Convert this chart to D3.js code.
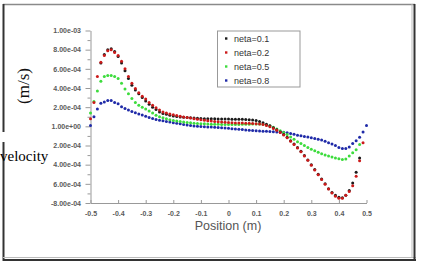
<!DOCTYPE html>
<html>
<head>
<meta charset="utf-8">
<script src="https://cdn.jsdelivr.net/npm/d3@7"></script>
<style>
  body { margin: 0; background: #fff; }
  svg { display: block; }
  .tick text { font-family: "Liberation Sans", Arial, sans-serif; fill: #5a5a5a; font-weight: bold; }
  .domain, .tick line { stroke: #999; }
</style>
</head>
<body>
<svg id="chart" width="421" height="264"></svg>
<script>
// values in units of 1e-4 m/s, sampled every 0.0125 m
var positions = [
	-0.5,-0.4875,-0.475,-0.4625,-0.45,-0.4375,-0.425,-0.4125,-0.4,-0.3875,
	-0.375,-0.3625,-0.35,-0.3375,-0.325,-0.3125,-0.3,-0.2875,-0.275,-0.2625,
	-0.25,-0.2375,-0.225,-0.2125,-0.2,-0.1875,-0.175,-0.1625,-0.15,-0.1375,
	-0.125,-0.1125,-0.1,-0.0875,-0.075,-0.0625,-0.05,-0.0375,-0.025,-0.0125,
	0,0.0125,0.025,0.0375,0.05,0.0625,0.075,0.0875,0.1,0.1125,
	0.125,0.1375,0.15,0.1625,0.175,0.1875,0.2,0.2125,0.225,0.2375,
	0.25,0.2625,0.275,0.2875,0.3,0.3125,0.325,0.3375,0.35,0.3625,
	0.375,0.3875,0.4,0.4125,0.425,0.4375,0.45,0.4625,0.475,0.4875,
	0.5];

var neta01 = [
	null,null,null,6.6,7.5,8.0,8.1,7.8,7.3,6.6,
	5.8,5.0,4.3,3.8,3.4,3.0,2.65,2.3,2.0,1.75,
	1.5,1.35,1.25,1.15,1.08,1.02,0.98,0.95,0.92,0.9,
	0.87,0.84,0.82,0.8,0.8,0.79,0.78,0.77,0.77,0.76,
	0.76,0.75,0.75,0.74,0.73,0.72,0.7,0.66,0.6,0.5,
	0.38,0.22,0.05,-0.15,-0.35,-0.6,-0.85,-1.15,-1.5,-1.85,
	-2.2,-2.6,-3.05,-3.5,-4.0,-4.5,-5.0,-5.5,-6.0,-6.5,
	-6.9,-7.2,-7.4,-7.45,-7.2,-6.7,-5.9,-4.8,-3.3,null,
	null];
var neta02 = [
	0.8,2.5,5.2,6.7,7.4,7.9,8.0,7.7,7.4,6.8,
	6.0,5.2,4.5,3.95,3.5,3.15,2.85,2.5,2.2,1.95,
	1.7,1.5,1.38,1.28,1.2,1.12,1.05,0.98,0.92,0.86,
	0.8,0.74,0.68,0.63,0.59,0.55,0.51,0.48,0.45,0.42,
	0.4,0.38,0.36,0.35,0.34,0.33,0.32,0.3,0.28,0.24,
	0.18,0.08,-0.05,-0.22,-0.42,-0.65,-0.9,-1.2,-1.55,-1.9,
	-2.25,-2.65,-3.1,-3.55,-4.05,-4.55,-5.05,-5.55,-6.05,-6.55,
	-6.95,-7.3,-7.5,-7.5,-7.2,-6.8,-6.2,-5.2,-3.6,-1.7,
	null];
var neta05 = [
	1.4,2.6,3.7,4.7,5.2,5.3,5.3,5.2,5.0,4.5,
	3.9,3.4,2.9,2.5,2.2,2.0,1.8,1.6,1.4,1.15,
	1.0,0.9,0.8,0.7,0.62,0.56,0.5,0.45,0.41,0.37,
	0.33,0.3,0.28,0.26,0.24,0.23,0.22,0.21,0.2,0.19,
	0.18,0.18,0.19,0.2,0.21,0.22,0.23,0.24,0.25,0.25,
	0.22,0.15,0.05,-0.1,-0.28,-0.45,-0.65,-0.85,-1.1,-1.35,
	-1.6,-1.8,-2.0,-2.2,-2.4,-2.55,-2.7,-2.85,-3.0,-3.1,
	-3.2,-3.3,-3.37,-3.45,-3.4,-3.1,-2.75,-2.45,-1.9,null,
	null];
var neta08 = [
	0.1,1.0,1.8,2.4,2.55,2.7,2.7,2.5,2.35,2.05,
	1.85,1.7,1.55,1.42,1.3,1.18,1.05,0.93,0.82,0.72,
	0.64,0.57,0.5,0.44,0.38,0.32,0.26,0.2,0.13,0.08,
	0.04,0.01,-0.02,-0.04,-0.06,-0.08,-0.1,-0.12,-0.14,-0.17,
	-0.2,-0.24,-0.28,-0.31,-0.34,-0.37,-0.4,-0.43,-0.45,-0.48,
	-0.5,-0.52,-0.54,-0.56,-0.58,-0.6,-0.63,-0.68,-0.75,-0.83,
	-0.92,-0.98,-1.05,-1.12,-1.2,-1.27,-1.34,-1.42,-1.55,-1.7,
	-1.85,-2.0,-2.2,-2.3,-2.3,-2.15,-1.8,-1.5,-1.15,-0.6,
	0.1];

var seriesNames = ['neta=0.1', 'neta=0.2', 'neta=0.5', 'neta=0.8'];
var seriesValues = [neta01, neta02, neta05, neta08];
var seriesColors = ['#1a1a1a', '#cc1a1a', '#3ddc3d', '#1f2aa8'];

var xTicks = [-0.5,-0.4,-0.3,-0.2,-0.1,0,0.1,0.2,0.3,0.4,0.5];
var xTickLabels = ['-0.5','-0.4','-0.3','-0.2','-0.1','0','0.1','0.2','0.3','0.4','0.5'];
var yTicks = [-8,-6,-4,-2,0,2,4,6,8,10];
var yTickLabels = ['-8.00e-04','6.00e-04','4.00e-04','2.00e-04','1.00e+00','2.00e-04','4.00e-04','6.00e-04','8.00e-04','1.00e-03'];

var svg = d3.select('#chart');

// outer frame of the picture
var frame = svg.append('g');
frame.append('line').attr('x1', 3).attr('x2', 415).attr('y1', 4.5).attr('y2', 4.5)
	.attr('stroke', '#8a8a8a').attr('stroke-width', 1.5);
frame.append('line').attr('x1', 3.5).attr('x2', 3.5).attr('y1', 4).attr('y2', 132)
	.attr('stroke', '#333').attr('stroke-width', 2);
frame.append('line').attr('x1', 3.5).attr('x2', 3.5).attr('y1', 142).attr('y2', 261)
	.attr('stroke', '#333').attr('stroke-width', 2);
frame.append('line').attr('x1', 3).attr('x2', 416).attr('y1', 257.5).attr('y2', 257.5)
	.attr('stroke', '#bbb').attr('stroke-width', 1);
frame.append('line').attr('x1', 3).attr('x2', 416).attr('y1', 260).attr('y2', 260)
	.attr('stroke', '#333').attr('stroke-width', 2);
frame.append('line').attr('x1', 412).attr('x2', 412).attr('y1', 4).attr('y2', 258)
	.attr('stroke', '#bbb').attr('stroke-width', 1);
frame.append('line').attr('x1', 414.5).attr('x2', 414.5).attr('y1', 4).attr('y2', 261)
	.attr('stroke', '#333').attr('stroke-width', 2);

var x = d3.scaleLinear().domain([-0.5, 0.5]).range([90.5, 366.5]);
var y = d3.scaleLinear().domain([-8, 10]).range([203, 30.5]);

// minor y ticks
svg.append('g')
	.attr('transform', 'translate(90.5,0)')
	.call(d3.axisLeft(y).tickValues(d3.range(-7, 10, 2)).tickSize(3).tickFormat(''))
	.call(g => g.select('.domain').remove());

svg.append('g')
	.attr('transform', 'translate(90.5,0)')
	.call(d3.axisLeft(y).tickValues(yTicks).tickSize(5).tickSizeOuter(0).tickPadding(4.5)
		.tickFormat((d, i) => yTickLabels[i]))
	.selectAll('text').style('font-size', '7px');

svg.append('g')
	.attr('transform', 'translate(0,203)')
	.call(d3.axisBottom(x).tickValues(xTicks).tickSize(-3).tickSizeOuter(0).tickPadding(8)
		.tickFormat((d, i) => xTickLabels[i]))
	.selectAll('text').style('font-size', '7px');

svg.append('text')
	.attr('x', 228).attr('y', 229.5)
	.attr('text-anchor', 'middle')
	.style('font-family', '"Liberation Sans", Arial, sans-serif')
	.style('font-size', '12.5px')
	.attr('fill', '#555')
	.text('Position (m)');

svg.append('text')
	.attr('transform', 'translate(29,86) rotate(-90)')
	.attr('text-anchor', 'middle')
	.style('font-family', '"Liberation Serif", "Times New Roman", serif')
	.style('font-size', '17px')
	.attr('fill', '#111')
	.text('(m/s)');

svg.append('text')
	.attr('x', 0).attr('y', 160.5)
	.style('font-family', '"Liberation Serif", "Times New Roman", serif')
	.style('font-size', '15px')
	.attr('fill', '#000')
	.text('velocity');

// data points, drawn back to front
var plot = svg.append('g');
[3, 2, 0, 1].forEach(function(k){
	var pts = positions.map((p, i) => ({x: p, v: seriesValues[k][i]})).filter(d => d.v !== null);
	plot.append('g')
		.selectAll('circle')
			.data(pts)
		.enter()
		.append('circle')
			.attr('cx', d => x(d.x))
			.attr('cy', d => y(d.v))
			.attr('r', 1.5)
			.attr('fill', seriesColors[k]);
});

// legend
var legend = svg.append('g');
legend.append('rect')
	.attr('x', 217.5).attr('y', 31).attr('width', 82.5).attr('height', 56)
	.attr('fill', '#fff').attr('stroke', '#999').attr('stroke-width', 1);
var rows = legend.selectAll('g.row')
		.data(seriesNames)
	.enter()
	.append('g')
		.attr('class', 'row')
		.attr('transform', (d, i) => 'translate(0,' + (38.5 + i * 14) + ')');
rows.append('rect')
	.attr('x', 225).attr('y', -1.2).attr('width', 2.4).attr('height', 2.4)
	.attr('fill', (d, i) => seriesColors[i]);
rows.append('text')
	.attr('x', 234).attr('y', 3)
	.style('font-family', '"Liberation Sans", Arial, sans-serif')
	.style('font-size', '9px')
	.attr('fill', '#333')
	.text(d => d);
</script>
</body>
</html>
